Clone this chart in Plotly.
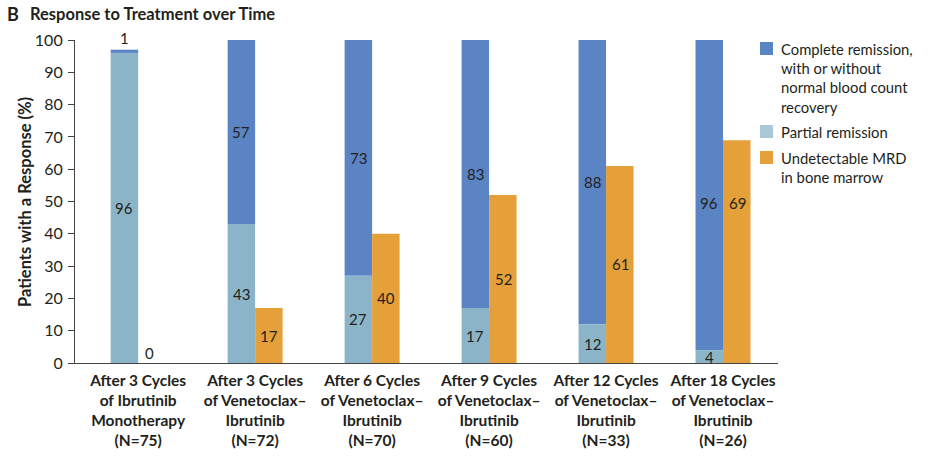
import plotly.graph_objects as go

categories = [
    "After 3 Cycles<br>of Ibrutinib<br>Monotherapy<br>(N=75)",
    "After 3 Cycles<br>of Venetoclax–<br>Ibrutinib<br>(N=72)",
    "After 6 Cycles<br>of Venetoclax–<br>Ibrutinib<br>(N=70)",
    "After 9 Cycles<br>of Venetoclax–<br>Ibrutinib<br>(N=60)",
    "After 12 Cycles<br>of Venetoclax–<br>Ibrutinib<br>(N=33)",
    "After 18 Cycles<br>of Venetoclax–<br>Ibrutinib<br>(N=26)",
]
partial = [96, 43, 27, 17, 12, 4]
complete = [1, 57, 73, 83, 88, 96]
mrd = [0, 17, 40, 52, 61, 69]
y_ticks = [0, 10, 20, 30, 40, 50, 60, 70, 80, 90, 100]
legend_labels = [
    "Complete remission,<br>with or without<br>normal blood count<br>recovery",
    "Partial remission",
    "Undetectable MRD<br>in bone marrow",
]

C_COMPLETE = "#5b84c4"
C_PARTIAL = "#8bb4c9"
C_PARTIAL_LEG = "#a9c8d7"
C_MRD = "#e5a03a"
TXT = "#231f20"
AXC = "#444444"
FONT = "Lato"

W, H = 930, 459
ML, MR, MT, MB = 75, 152, 40, 96
PW, PH = W - ML - MR, H - MT - MB

def px_x(p):
    return (p - ML) / PW

def px_y(p):
    return 1 - (p - MT) / PH

fig = go.Figure()
fig.add_trace(go.Bar(x=categories, y=complete, base=partial, offsetgroup="a",
                     marker=dict(color=C_COMPLETE, line=dict(width=0)),
                     name=legend_labels[0], showlegend=False, hoverinfo="skip"))
fig.add_trace(go.Bar(x=categories, y=partial, offsetgroup="a",
                     marker=dict(color=C_PARTIAL, line=dict(width=0)),
                     name=legend_labels[1], showlegend=False, hoverinfo="skip"))
fig.add_trace(go.Bar(x=categories, y=mrd, offsetgroup="b",
                     marker=dict(color=C_MRD, line=dict(width=0)),
                     name=legend_labels[2], showlegend=False, hoverinfo="skip"))

# value labels
SHIFT = 14
VFONT = dict(family=FONT, size=15, color=TXT)
ann = []
for i, cat in enumerate(categories):
    p, c, m = partial[i], complete[i], mrd[i]
    ann.append(dict(x=cat, y=p / 2, text=str(p), xshift=-SHIFT))
    if c < 5:
        ann.append(dict(x=cat, y=p + c, text=str(c), xshift=-SHIFT, yanchor="bottom", yshift=1))
    elif i == len(categories) - 1:
        ann.append(dict(x=cat, y=49.5, text=str(c), xshift=-SHIFT))
    else:
        ann.append(dict(x=cat, y=p + c / 2, text=str(c), xshift=-SHIFT))
    if m < 5:
        ann.append(dict(x=cat, y=m, text=str(m), xshift=SHIFT - 3, yanchor="bottom", yshift=-1))
    elif i == len(categories) - 1:
        ann.append(dict(x=cat, y=49.5, text=str(m), xshift=SHIFT))
    else:
        ann.append(dict(x=cat, y=m / 2, text=str(m), xshift=SHIFT))
for a in ann:
    a.update(xref="x", yref="y", showarrow=False, font=VFONT)

# titles
ann.append(dict(xref="paper", yref="paper", x=px_x(5), y=px_y(14), xanchor="left", yanchor="middle",
                text="<b>B</b>", showarrow=False, font=dict(family=FONT, size=18, color=TXT)))
ann.append(dict(xref="paper", yref="paper", x=px_x(28), y=px_y(14), xanchor="left", yanchor="middle",
                text="<b>Response to Treatment over Time</b>", showarrow=False,
                font=dict(family=FONT, size=16.5, color=TXT)))
ann.append(dict(xref="paper", yref="paper", x=px_x(25), y=px_y(202), xanchor="center", yanchor="middle",
                textangle=-90, text="<b>Patients with a Response (%)</b>", showarrow=False,
                font=dict(family=FONT, size=16.5, color=TXT)))

# custom legend
leg_colors = [C_COMPLETE, C_PARTIAL_LEG, C_MRD]
leg_tops = [38, 121, 147]
shapes = []
for lab, col, top in zip(legend_labels, leg_colors, leg_tops):
    shapes.append(dict(type="rect", xref="paper", yref="paper",
                       x0=px_x(760), x1=px_x(773), y0=px_y(top + 4), y1=px_y(top + 17),
                       fillcolor=col, line=dict(width=0)))
    ann.append(dict(xref="paper", yref="paper", x=px_x(779), y=px_y(top), xanchor="left",
                    yanchor="top", align="left", text=lab, showarrow=False,
                    font=dict(family=FONT, size=14.8, color=TXT)))

fig.update_layout(
    width=W, height=H,
    margin=dict(l=ML, r=MR, t=MT, b=MB, pad=0, autoexpand=False),
    paper_bgcolor="white", plot_bgcolor="white",
    barmode="group", bargap=0.53, bargroupgap=0,
    font=dict(family=FONT, size=15, color=TXT),
    annotations=ann, shapes=shapes,
    showlegend=False,
    xaxis=dict(range=[-0.54, 5.47], showline=True, linecolor=AXC, linewidth=1.2,
               ticks="", showgrid=False, zeroline=False, automargin=False,
               tickfont=dict(family=FONT, size=15.5, color=TXT), ticklabelstandoff=3,
               tickprefix="<b>", ticksuffix="</b>"),
    yaxis=dict(range=[0, 100], tickvals=y_ticks, showline=True, linecolor=AXC, linewidth=1.2,
               ticks="outside", ticklen=6, tickcolor=AXC, showgrid=False, zeroline=False,
               automargin=False,
               tickfont=dict(family=FONT, size=16, color=TXT), ticklabelstandoff=2),
)

fig.write_html("out.html", config={"displayModeBar": False},
               post_script="document.body.style.margin='0';")
